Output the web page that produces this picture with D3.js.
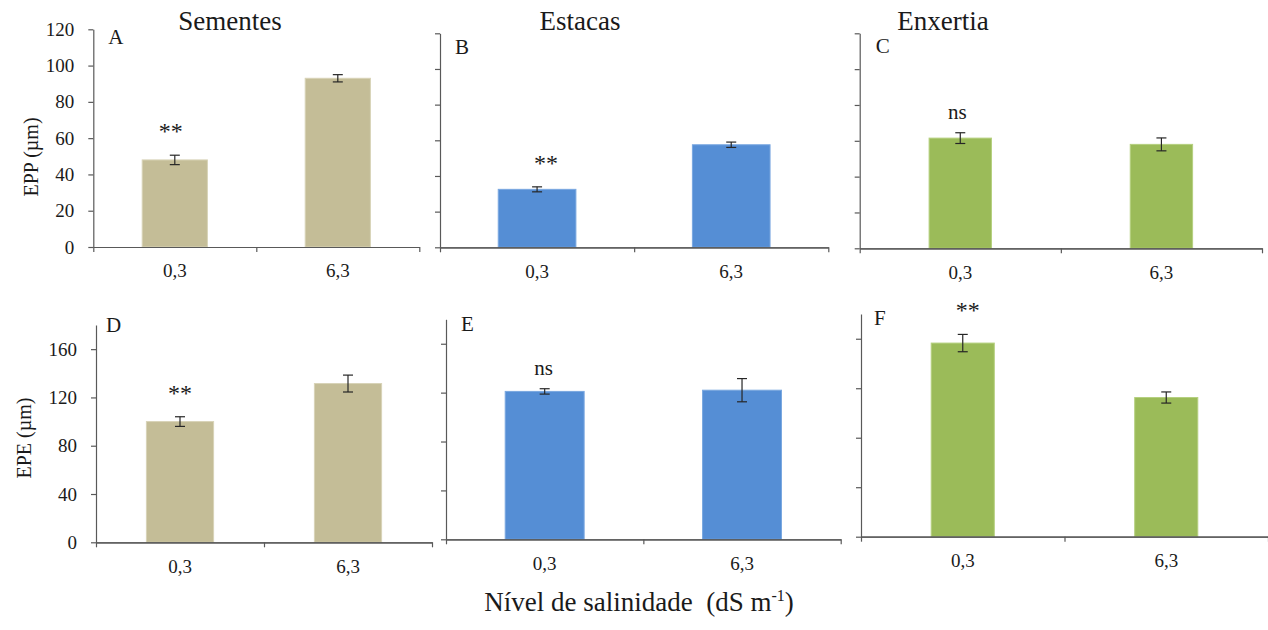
<!DOCTYPE html>
<html>
<head>
<meta charset="utf-8">
<script src="https://cdn.jsdelivr.net/npm/d3@7"></script>
<style>
  body { margin: 0; background: #fff; }
  svg { display: block; }
  svg text { font-family: "Liberation Serif", "Times New Roman", serif; fill: #1a1a1a; }
  .axis path, .axis line { stroke: #595959; stroke-width: 1.2; }
</style>
</head>
<body>
<div id="chart"></div>
<script>
// data
const levels = ['0,3', '6,3'];
const groups = ['Sementes', 'Estacas', 'Enxertia'];
const panelIds = ['A', 'B', 'C', 'D', 'E', 'F'];

const eppMean = [[48, 93], [32.5, 57.5], [61.5, 58]];
const eppErr = [[2.6, 2], [1.4, 1.5], [3, 3.6]];
const epeMean = [[100, 131.5], [121, 122], [156.5, 112.5]];
const epeErr = [[4, 7], [2.2, 9.5], [7, 4.5]];

const eppSig = ['**', '**', 'ns'];
const epeSig = ['**', 'ns', '**'];

const eppTicks = [0, 20, 40, 60, 80, 100, 120];
const epeTicks = [0, 40, 80, 120, 160];
const eppMax = 120;
const epeMax = 180;

const groupColors = ['#c4bd97', '#558ed5', '#9bbb59'];
const groupEdges = ['#d8d3b7', '#7aa8e0', '#b5d07f'];

// layout (pixel boxes of each panel)
const layout = [
  { x0: 93.3, x1: 419.3, top: 29.3, zero: 247, pad: 0.6, lx: 15, ly: 15, mdx: -4 },
  { x0: 440, x1: 828.3, top: 33.3, zero: 247.3, pad: 0.6, lx: 15, ly: 21, mdx: 9 },
  { x0: 859.7, x1: 1262, top: 33.3, zero: 248.3, pad: 0.69, lx: 16, ly: 20, mdx: -3 },
  { x0: 96, x1: 432, top: 325, zero: 542.3, pad: 0.6, lx: 10, ly: 7, mdx: 0 },
  { x0: 446, x1: 840.7, top: 319.3, zero: 539.3, pad: 0.6, lx: 15, ly: 12, mdx: -1 },
  { x0: 861, x1: 1268, top: 314, zero: 536.7, pad: 0.69, lx: 13, ly: 11, mdx: 5 }
];
const titleX = [230, 580, 943];
const serif = '"Liberation Serif", "Times New Roman", serif';

const width = 1268, height = 630;

const svg = d3.select('#chart').append('svg')
  .attr('width', width)
  .attr('height', height);

function drawPanel(i) {
  const row = i < 3 ? 0 : 1;
  const g = i % 3;
  const L = layout[i];
  const means = row === 0 ? eppMean[g] : epeMean[g];
  const errs = row === 0 ? eppErr[g] : epeErr[g];
  const sig = row === 0 ? eppSig[g] : epeSig[g];
  const maxV = row === 0 ? eppMax : epeMax;
  const ticks = row === 0 ? eppTicks : epeTicks;
  const rows = levels.map((lv, k) => ({ level: lv, mean: means[k], err: errs[k] }));

  const x = d3.scaleBand()
    .domain(levels)
    .range([L.x0, L.x1])
    .paddingInner(L.pad)
    .paddingOuter(L.pad / 2);

  const xEdge = d3.scaleLinear()
    .domain([0, levels.length])
    .range([L.x0, L.x1]);

  const y = d3.scaleLinear()
    .domain([0, maxV])
    .range([L.zero, L.top]);

  const panel = svg.append('g');

  // bars
  panel.selectAll('.bar')
    .data(rows)
    .enter()
    .append('rect')
    .attr('class', 'bar')
    .attr('x', d => x(d.level))
    .attr('y', d => y(d.mean))
    .attr('width', x.bandwidth())
    .attr('height', d => y(0) - y(d.mean))
    .attr('fill', groupColors[g])
    .attr('stroke', groupEdges[g])
    .attr('stroke-width', 1);

  // error bars
  const eb = panel.selectAll('.err')
    .data(rows)
    .enter()
    .append('g')
    .attr('class', 'err')
    .attr('stroke', '#262626')
    .attr('stroke-width', 1.2);
  const cx = d => x(d.level) + x.bandwidth() / 2;
  eb.append('line')
    .attr('x1', cx).attr('x2', cx)
    .attr('y1', d => y(d.mean + d.err)).attr('y2', d => y(d.mean - d.err));
  eb.append('line')
    .attr('x1', d => cx(d) - 5).attr('x2', d => cx(d) + 5)
    .attr('y1', d => y(d.mean + d.err)).attr('y2', d => y(d.mean + d.err));
  eb.append('line')
    .attr('x1', d => cx(d) - 5).attr('x2', d => cx(d) + 5)
    .attr('y1', d => y(d.mean - d.err)).attr('y2', d => y(d.mean - d.err));

  // significance mark over the first bar
  const first = rows[0];
  panel.append('text')
    .attr('x', cx(first) + L.mdx)
    .attr('y', y(first.mean + first.err) - (sig === 'ns' ? 14 : 16))
    .attr('text-anchor', 'middle')
    .attr('font-family', serif)
    .attr('font-size', sig === 'ns' ? 21 : 24)
    .text(sig);

  // y axis
  const yaxis = d3.axisLeft(y)
    .tickValues(ticks)
    .tickSize(5)
    .tickSizeOuter(0)
    .tickPadding(14)
    .tickFormat(g === 0 ? d3.format('d') : () => '');
  panel.append('g')
    .attr('class', 'y axis')
    .attr('transform', `translate(${L.x0},0)`)
    .call(yaxis)
    .attr('font-family', serif)
    .attr('font-size', 19);

  // x axis: category labels and boundary ticks
  panel.append('g')
    .attr('class', 'x axis')
    .attr('transform', `translate(0,${L.zero})`)
    .call(d3.axisBottom(x).tickSize(0).tickPadding(17))
    .attr('font-family', serif)
    .attr('font-size', 19);

  panel.append('g')
    .attr('class', 'x axis')
    .attr('transform', `translate(0,${L.zero})`)
    .call(d3.axisBottom(xEdge).tickValues(d3.range(levels.length + 1)).tickSize(5).tickSizeOuter(0).tickFormat(''));

  // panel letter
  panel.append('text')
    .attr('x', L.x0 + L.lx)
    .attr('y', L.top + L.ly)
    .attr('font-family', serif)
    .attr('font-size', 21)
    .text(panelIds[i]);
}

d3.range(6).forEach(drawPanel);

// column titles
svg.selectAll('.title')
  .data(groups)
  .enter()
  .append('text')
  .attr('class', 'title')
  .attr('x', (d, k) => titleX[k])
  .attr('y', 30)
  .attr('text-anchor', 'middle')
  .attr('font-family', serif)
  .attr('font-size', 27)
  .text(d => d);

// y labels
svg.append('text')
  .attr('transform', 'translate(38,157) rotate(-90)')
  .attr('text-anchor', 'middle')
  .attr('font-family', serif)
  .attr('font-size', 20)
  .text('EPP (µm)');

svg.append('text')
  .attr('transform', 'translate(31,438) rotate(-90)')
  .attr('text-anchor', 'middle')
  .attr('font-family', serif)
  .attr('font-size', 20)
  .text('EPE (µm)');

// x label
const xl = svg.append('text')
  .attr('x', 639)
  .attr('y', 611)
  .attr('text-anchor', 'middle')
  .attr('font-family', serif)
  .attr('font-size', 27);
xl.append('tspan').text('Nível de salinidade\u00a0 (dS m');
xl.append('tspan').attr('font-size', 16).attr('dy', -10).text('-1');
xl.append('tspan').attr('dy', 10).text(')');
</script>
</body>
</html>
